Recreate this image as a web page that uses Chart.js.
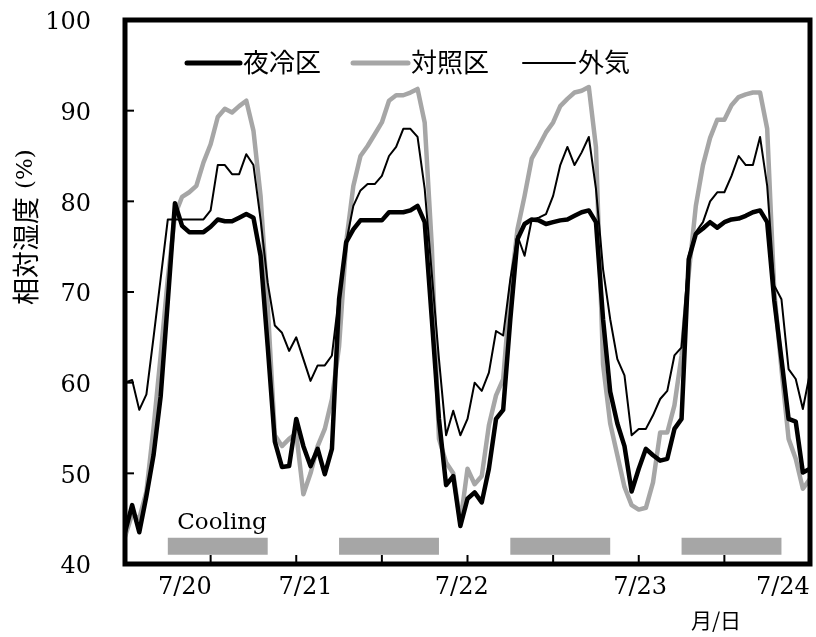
<!DOCTYPE html>
<html><head><meta charset="utf-8">
<script src="https://cdn.jsdelivr.net/npm/chart.js@4.4.1/dist/chart.umd.min.js"></script>
<style>html,body{margin:0;padding:0;background:#fff;}#wrap{width:816px;height:637px;}</style>
</head><body><div id="wrap"><canvas id="c" width="816" height="637"></canvas></div>
<script>
// ---- data (hourly, hour 0 = 7/20 12:00) ----
const seriesNames = ['夜冷区', '対照区', '外気'];
const nightCooled = [43.5,46.5,43.5,47.5,52,58.5,69,79.8,77.3,76.6,76.6,76.6,77.2,78,77.8,77.8,78.2,78.6,78.2,74,64,53.5,50.7,50.8,56,
  53,50.8,52.7,49.9,52.7,69.2,75.5,76.9,77.9,77.9,77.9,77.9,78.8,78.8,78.8,79,79.5,77.7,67,56,48.7,49.7,44.2,47.2,
  47.9,46.8,50.5,56,57,67,75.8,77.5,78,77.9,77.5,77.7,77.9,78,78.4,78.8,79,77.7,67,59,55.5,53,48,50.5,
  52.7,52,51.4,51.6,54.9,56,73.6,76.4,77,77.7,77.1,77.7,78,78.1,78.4,78.8,79,77.7,69,62.6,56,55.7,50.1,50.5];
const control = [43,45.5,45,48,55,63,71.5,78.5,80.5,81,81.7,84.3,86.3,89.3,90.2,89.8,90.5,91.1,87.8,80.6,68.5,54.2,53,53.8,54.4,
  47.7,50,53,54.9,58.2,64,75.5,81.7,85,86.1,87.4,88.7,91.1,91.7,91.7,92,92.4,88.7,75,53.8,51.2,50,44.6,50.5,
  48.8,49.7,55.3,58.6,60.4,70,76.9,80.6,84.7,86.1,87.6,88.7,90.5,91.3,92,92.2,92.6,86,62,55.5,52,48.5,46.5,46,
  46.2,49,54.5,54.5,57.5,63,72,79.5,84,87,89,89,90.6,91.5,91.8,92,92,88,70,61.5,53.8,51.6,48.3,49.4];
const outside = [60,60.3,57,58.7,65,71.5,78,78,78,78,78,78,79,84,84,83,83,85.2,84,78,71,66.3,65.5,63.5,65,
  62.6,60.2,61.9,61.9,63,69.6,75.5,79.5,81.2,81.9,81.9,82.8,85,86,88,88,87.1,81.4,72,62.6,54.2,56.9,54.2,56,
  60,59.1,61.1,65.7,65.2,71.4,76.2,74,78,78.2,78.6,80.6,84,86,84,85.4,87.1,81.4,72.5,67,62.6,60.8,54.2,54.9,
  54.9,56.4,58.2,59.1,63,63.9,74,76.6,77.7,80,81,81,82.8,85,84,84,87.1,81.7,70.7,69.2,61.5,60.4,57.1,61.1];
const yTicks = [40, 50, 60, 70, 80, 90, 100];
const xTickHours = [12, 24, 36, 48, 60, 72, 84];
const xTickLabels = ['7/20', '7/21', '7/22', '7/23', '7/24'];
const xLabelHours = [8.4, 25.3, 47.2, 72.2, 92.2];
const coolingStart = [6, 30, 54, 78];
const coolingEnd = [20, 44, 68, 92];
const coolingLevel = 41.95;

const toXY = arr => arr.map((v, i) => ({x: i, y: v}));
const coolData = [];
coolingStart.forEach((s, k) => {
  coolData.push({x: s, y: coolingLevel}, {x: coolingEnd[k], y: coolingLevel});
  coolData.push({x: coolingEnd[k] + 1, y: null});
});

const GRAY = '#a6a6a6';
const legendItems = [
  {name: seriesNames[0], color: '#000', w: 5, x0: 187, x1: 240},
  {name: seriesNames[1], color: GRAY, w: 5, x0: 353, x1: 408},
  {name: seriesNames[2], color: '#000', w: 2, x0: 523, x1: 575}
];

const deco = {
  id: 'deco',
  afterDraw(chart) {
    const {ctx, chartArea: a, scales: {x, y}} = chart;
    ctx.save();
    ctx.strokeStyle = '#000';
    ctx.lineWidth = 2;
    yTicks.forEach(v => {
      if (v > 40 && v < 100) {
        const py = y.getPixelForValue(v);
        ctx.beginPath(); ctx.moveTo(a.left, py); ctx.lineTo(a.left + 9, py); ctx.stroke();
      }
    });
    xTickHours.forEach(h => {
      const px = x.getPixelForValue(h);
      ctx.beginPath(); ctx.moveTo(px, a.bottom); ctx.lineTo(px, a.bottom - 9); ctx.stroke();
    });
    ctx.lineWidth = 5;
    ctx.lineJoin = 'miter';
    ctx.strokeRect(a.left, a.top, a.right - a.left, a.bottom - a.top);

    ctx.fillStyle = '#000';
    ctx.font = '24px "DejaVu Serif"';
    ctx.textAlign = 'right'; ctx.textBaseline = 'middle';
    yTicks.forEach(v => ctx.fillText(String(v), 91, y.getPixelForValue(v) + 3));
    ctx.textAlign = 'center';
    xTickLabels.forEach((t, i) => ctx.fillText(t, x.getPixelForValue(xLabelHours[i]), 588));

    ctx.font = '23px "DejaVu Serif"';
    ctx.fillText('Cooling', 222, 523);

    ctx.font = '21px "Noto Sans CJK JP"';
    ctx.fillText('月/日', 716, 620);

    // legend
    ctx.textAlign = 'left';
    ctx.font = '26px "Noto Sans CJK JP"';
    legendItems.forEach(it => {
      ctx.strokeStyle = it.color; ctx.lineWidth = it.w; ctx.lineCap = 'round';
      ctx.beginPath(); ctx.moveTo(it.x0, 63); ctx.lineTo(it.x1, 63); ctx.stroke();
      ctx.fillStyle = '#000';
      ctx.fillText(it.name, it.x1 + 3, 62);
    });

    // y title (rotated)
    ctx.save();
    ctx.translate(26, 305);
    ctx.rotate(-Math.PI / 2);
    ctx.textAlign = 'left';
    ctx.font = '27px "Noto Sans CJK JP"';
    ctx.fillText('相対湿度', 0, 0);
    const w1 = ctx.measureText('相対湿度').width;
    ctx.font = '23px "DejaVu Serif"';
    ctx.fillText('(%)', w1 + 8, 0);
    ctx.restore();
    ctx.restore();
  }
};

new Chart(document.getElementById('c'), {
  type: 'line',
  data: {
    datasets: [
      {label: seriesNames[2], data: toXY(outside), borderColor: '#000', borderWidth: 2, order: 0},
      {label: seriesNames[0], data: toXY(nightCooled), borderColor: '#000', borderWidth: 4.5, order: 1},
      {label: seriesNames[1], data: toXY(control), borderColor: GRAY, borderWidth: 4.5, order: 2},
      {label: 'Cooling', data: coolData, borderColor: GRAY, borderWidth: 17, borderCapStyle: 'butt', spanGaps: false, order: 3}
    ]
  },
  options: {
    responsive: false,
    animation: false,
    devicePixelRatio: 1,
    layout: {padding: {left: 125, right: 6, top: 20, bottom: 73}},
    elements: {point: {radius: 0}, line: {tension: 0, borderJoinStyle: 'round', fill: false}},
    plugins: {legend: {display: false}, tooltip: {enabled: false}},
    scales: {
      x: {type: 'linear', min: 0, max: 96, display: false},
      y: {type: 'linear', min: 40, max: 100, display: false}
    }
  },
  plugins: [deco]
});
</script></body></html>
